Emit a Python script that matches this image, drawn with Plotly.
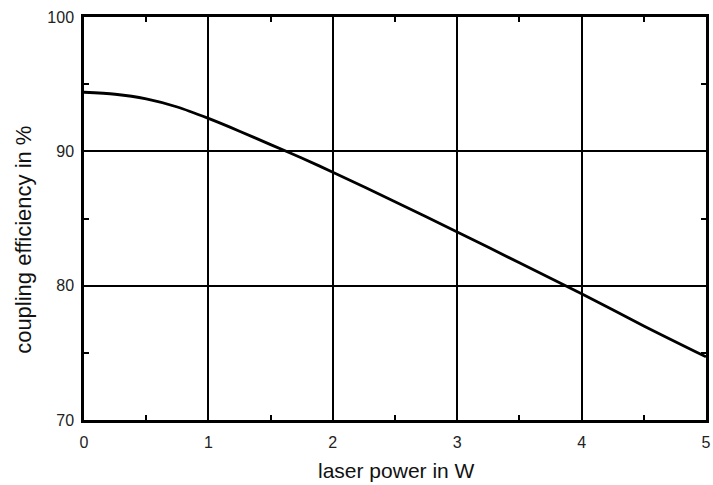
import plotly.graph_objects as go

power_w = [0, 0.25, 0.5, 0.75, 1.0, 1.25, 1.5, 1.75, 2.0, 2.5, 3.0, 3.5, 4.0, 4.5, 5.0]
efficiency_pct = [94.4, 94.25, 93.9, 93.3, 92.45, 91.5, 90.5, 89.5, 88.45, 86.25, 84.0, 81.7, 79.4, 77.0, 74.7]

x_ticks = [0, 1, 2, 3, 4, 5]
y_ticks = [70, 80, 90, 100]
x_title = "laser power in W"
y_title = "coupling efficiency in %"

FONT = "Liberation Sans, Arial, sans-serif"

fig = go.Figure()
fig.add_trace(go.Scatter(
    x=power_w, y=efficiency_pct, mode="lines",
    line=dict(color="black", width=2.8, shape="spline", smoothing=0.8),
    showlegend=False, hoverinfo="skip",
))

axis_common = dict(
    showline=True, linecolor="black", linewidth=2.5, mirror="allticks",
    showgrid=True, gridcolor="black", gridwidth=1.6,
    ticks="inside", ticklen=5, tickwidth=1.5, tickcolor="black",
    zeroline=False,
    tickfont=dict(family=FONT, size=16, color="#222"),
    ticklabeloverflow="allow",
)

fig.update_xaxes(
    range=[0, 5], tickvals=x_ticks, ticktext=[str(v) for v in x_ticks],
    minor=dict(dtick=0.5, ticks="inside", ticklen=5, tickcolor="black", tickwidth=1.5, showgrid=False),
    ticklabelstandoff=6,
    **axis_common,
)
fig.update_yaxes(
    range=[70, 100], tickvals=y_ticks, ticktext=[str(v) for v in y_ticks],
    minor=dict(dtick=5, ticks="inside", ticklen=5, tickcolor="black", tickwidth=1.5, showgrid=False),
    ticklabelstandoff=4,
    **axis_common,
)

fig.add_annotation(
    text=x_title, xref="paper", yref="paper", x=0.502, y=0,
    xanchor="center", yanchor="bottom", yshift=-64, showarrow=False,
    font=dict(family=FONT, size=21, color="#111"),
)
fig.add_annotation(
    text=y_title, xref="paper", yref="paper", x=0, y=0.447,
    xanchor="center", yanchor="middle", xshift=-60, textangle=-90, showarrow=False,
    font=dict(family=FONT, size=22, color="#111"),
)

fig.update_layout(
    width=713, height=485,
    margin=dict(l=84, r=7, t=17, b=65, autoexpand=False),
    paper_bgcolor="white", plot_bgcolor="white",
)

fig.write_html(
    "out.html",
    config={"displayModeBar": False},
    post_script="document.body.style.margin='0';document.body.style.overflow='hidden';",
)
